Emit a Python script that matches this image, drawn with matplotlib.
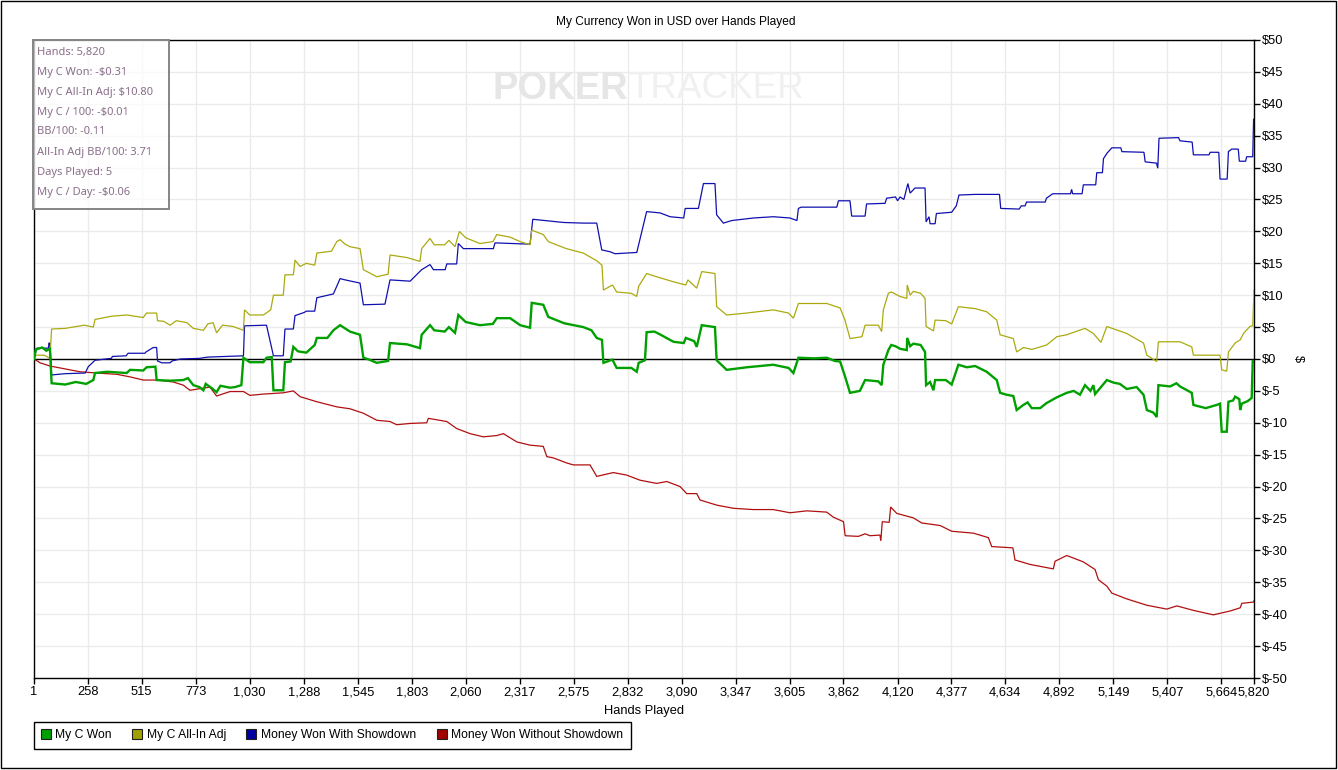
import matplotlib
matplotlib.use("Agg")
import matplotlib.pyplot as plt
from matplotlib.patches import Rectangle
from matplotlib.lines import Line2D

# ---------------- data ----------------
title = "My Currency Won in USD over Hands Played"
x_label = "Hands Played"
y_label = "$"
x_ticks = [1, 258, 515, 773, 1030, 1288, 1545, 1803, 2060, 2317, 2575, 2832,
           3090, 3347, 3605, 3862, 4120, 4377, 4634, 4892, 5149, 5407, 5664, 5820]
y_ticks = list(range(-50, 55, 5))

series_names = ["My C Won", "My C All-In Adj", "Money Won With Showdown",
                "Money Won Without Showdown"]

won_hands = [1, 10, 40, 60, 77, 85, 150, 200, 250, 284, 292, 350, 443, 459, 522, 538, 580,
             586, 650, 713, 735, 761, 790, 809, 820, 850, 872, 890, 936, 960, 990, 1000,
             1030, 1095, 1110, 1135, 1143, 1190, 1198, 1225, 1238, 1260, 1300, 1340, 1350,
             1400, 1429, 1461, 1508, 1556, 1572, 1600, 1636, 1690, 1699, 1780, 1842, 1850,
             1890, 1910, 1960, 1980, 2009, 2025, 2060, 2128, 2190, 2208, 2272, 2320, 2367,
             2375, 2430, 2454, 2530, 2621, 2660, 2685, 2710, 2717, 2760, 2780, 2850, 2876,
             2885, 2915, 2923, 2960, 2990, 3051, 3100, 3110, 3150, 3162, 3186, 3249, 3257,
             3305, 3400, 3527, 3600, 3623, 3647, 3720, 3782, 3820, 3846, 3870, 3893, 3940,
             3965, 4028, 4044, 4052, 4076, 4090, 4110, 4132, 4164, 4166, 4180, 4195, 4230,
             4251, 4256, 4275, 4291, 4299, 4350, 4378, 4410, 4450, 4490, 4545, 4593, 4609,
             4640, 4672, 4688, 4720, 4740, 4760, 4800, 4831, 4880, 4927, 4960, 4990, 5014,
             5040, 5054, 5062, 5118, 5150, 5180, 5213, 5260, 5293, 5309, 5340, 5356, 5364,
             5420, 5450, 5467, 5523, 5531, 5590, 5642, 5658, 5666, 5690, 5698, 5720, 5730,
             5750, 5754, 5762, 5790, 5809, 5814, 5820]
won_values = [0, 1.5, 1.8, 1.3, 1.6, -3.8, -4.0, -3.6, -3.9, -3.3, -2.2, -2.0, -2.2, -1.7,
              -1.8, -1.3, -1.2, -3.3, -3.4, -3.3, -3.0, -4.1, -4.4, -4.9, -3.9, -4.6, -5.2,
              -4.2, -4.5, -4.4, -4.1, 0.2, -0.5, -0.5, 0.2, 0.3, -4.9, -4.9, -0.5, -0.4, 1.9,
              1.2, 1.0, 2.2, 3.3, 3.3, 4.5, 5.3, 4.3, 3.8, 0.2, -0.1, -0.6, -0.3, 2.5, 2.3,
              1.7, 3.8, 5.3, 4.5, 4.3, 5.0, 4.1, 6.9, 5.8, 5.3, 5.5, 6.4, 6.4, 5.3, 4.9, 8.8,
              8.5, 6.6, 5.6, 5.0, 4.5, 3.3, 3.0, -0.6, -0.1, -1.4, -1.4, -2.0, -0.6, -0.2,
              4.2, 4.3, 3.8, 2.7, 2.5, 3.3, 2.8, 1.9, 5.3, 5.0, -0.2, -1.7, -1.3, -0.9, -1.4,
              -2.2, 0.2, 0.1, 0.2, -0.3, -0.4, -2.8, -5.3, -5.0, -3.3, -3.5, -4.1, -0.9, 1.4,
              2.2, 2.0, 1.6, 1.4, 3.3, 2.0, 2.4, 2.2, 1.1, -4.1, -3.6, -4.9, -3.3, -3.3, -4.0,
              -0.9, -1.3, -1.1, -2.0, -3.3, -5.3, -5.6, -5.8, -8.0, -7.2, -6.8, -7.7, -7.7,
              -6.9, -6.0, -5.3, -5.0, -5.6, -4.1, -5.0, -4.1, -5.5, -3.3, -3.7, -3.9, -4.7,
              -4.4, -5.6, -8.0, -8.4, -9.1, -4.1, -4.3, -3.8, -4.3, -5.3, -7.2, -7.7, -7.2,
              -7.0, -11.4, -11.4, -6.7, -6.5, -5.9, -6.3, -8.0, -7.0, -6.6, -6.1, -0.3, -0.31]

adj_hands = [1, 10, 50, 77, 85, 150, 240, 284, 292, 370, 443, 522, 538, 586, 590, 620, 650,
             680, 730, 761, 809, 830, 855, 872, 900, 950, 1000, 1005, 1030, 1095, 1130, 1143,
             1190, 1198, 1238, 1246, 1270, 1300, 1340, 1350, 1420, 1445, 1461, 1485, 1508,
             1556, 1572, 1636, 1690, 1699, 1780, 1842, 1850, 1890, 1910, 1960, 1980, 2009,
             2030, 2060, 2128, 2190, 2208, 2272, 2320, 2367, 2375, 2430, 2454, 2540, 2621,
             2685, 2710, 2717, 2760, 2780, 2850, 2876, 2885, 2923, 2960, 3051, 3110, 3120,
             3162, 3186, 3249, 3257, 3305, 3400, 3527, 3600, 3623, 3647, 3782, 3846, 3870,
             3893, 3950, 3965, 4028, 4044, 4052, 4076, 4090, 4132, 4164, 4166, 4180, 4195,
             4230, 4251, 4256, 4291, 4299, 4350, 4378, 4410, 4490, 4545, 4593, 4609, 4672,
             4688, 4720, 4760, 4831, 4880, 4927, 5014, 5054, 5090, 5118, 5213, 5293, 5309,
             5356, 5364, 5467, 5523, 5531, 5642, 5658, 5666, 5690, 5698, 5730, 5754, 5770,
             5800, 5814, 5820]
adj_values = [0, 0.6, 0.6, 0.1, 4.7, 4.8, 5.3, 5.0, 6.2, 6.7, 6.9, 6.5, 7.2, 7.2, 6.0, 5.9,
              5.3, 6.0, 5.7, 4.8, 4.5, 5.5, 5.7, 4.1, 5.3, 5.1, 4.5, 7.7, 6.9, 6.9, 7.7, 10.0,
              10.0, 13.2, 13.2, 15.5, 14.5, 15.0, 14.7, 16.6, 16.9, 18.4, 18.7, 18.0, 17.6,
              17.3, 14.0, 12.9, 13.3, 16.3, 15.9, 15.3, 17.3, 18.9, 17.9, 17.9, 18.6, 17.6,
              20.0, 19.0, 18.1, 18.4, 19.5, 19.1, 18.4, 17.9, 20.2, 19.5, 18.4, 17.3, 16.6,
              15.4, 14.7, 10.8, 11.6, 10.5, 10.3, 9.8, 11.4, 13.4, 13.0, 12.1, 11.6, 12.4,
              11.1, 13.7, 13.4, 8.2, 6.9, 7.2, 7.7, 7.2, 6.4, 8.7, 8.7, 8.0, 6.0, 3.2, 3.5,
              5.3, 5.3, 4.3, 7.7, 10.3, 10.5, 9.8, 9.5, 11.6, 10.0, 10.6, 10.3, 9.5, 5.1, 4.4,
              6.1, 6.0, 5.5, 8.2, 7.9, 7.4, 6.1, 3.8, 3.2, 1.1, 1.8, 1.5, 2.2, 3.5, 3.8, 4.8,
              4.0, 2.6, 5.1, 4.0, 2.5, 0.6, -0.4, 2.7, 2.7, 1.9, 0.6, 0.6, 0.6, -1.7, -1.9,
              1.1, 2.5, 3.0, 4.0, 5.1, 5.2, 10.8]

sd_hands = [1, 14, 70, 72, 77, 85, 150, 245, 260, 292, 370, 375, 440, 450, 530, 535, 570,
            586, 590, 610, 650, 660, 700, 790, 830, 1000, 1005, 1110, 1143, 1190, 1198, 1238,
            1246, 1290, 1300, 1340, 1350, 1429, 1461, 1485, 1556, 1572, 1675, 1699, 1795,
            1850, 1890, 1906, 1962, 1970, 2017, 2025, 2049, 2192, 2200, 2367, 2380, 2526,
            2620, 2685, 2709, 2750, 2772, 2876, 2923, 2987, 3035, 3100, 3107, 3170, 3178,
            3194, 3249, 3257, 3289, 3329, 3432, 3527, 3607, 3640, 3647, 3660, 3830, 3838,
            3893, 3901, 3965, 3972, 4060, 4068, 4110, 4120, 4132, 4150, 4169, 4180, 4203,
            4251, 4256, 4270, 4275, 4299, 4305, 4378, 4400, 4413, 4490, 4606, 4612, 4700,
            4710, 4728, 4735, 4824, 4830, 4860, 4945, 4950, 4955, 5000, 5006, 5065, 5070,
            5097, 5102, 5120, 5142, 5185, 5190, 5295, 5301, 5355, 5361, 5367, 5460, 5467,
            5525, 5531, 5605, 5611, 5652, 5658, 5692, 5698, 5714, 5745, 5750, 5780, 5785,
            5814, 5818, 5820]
sd_values = [0, 1.7, 1.7, 2.5, 2.5, -2.5, -2.3, -2.2, -1.2, -0.2, 0.1, 0.4, 0.5, 0.9, 0.9,
             1.1, 1.8, 1.8, -0.3, -0.6, -0.6, -0.3, 0.0, 0.1, 0.3, 0.5, 5.2, 5.3, 0.5, 0.5,
             4.7, 4.7, 6.8, 7.3, 7.5, 7.5, 9.6, 10.2, 12.6, 12.4, 11.9, 8.5, 8.6, 12.4, 12.2,
             14.0, 14.8, 14.0, 14.0, 14.9, 14.9, 18.1, 17.3, 17.3, 18.2, 18.0, 21.9, 21.4,
             21.3, 21.3, 17.1, 16.8, 16.5, 16.7, 23.1, 22.9, 22.3, 22.1, 23.6, 23.6, 24.9,
             27.5, 27.5, 22.6, 21.3, 21.7, 22.1, 22.3, 22.1, 21.7, 23.6, 23.8, 23.8, 24.8,
             24.8, 22.4, 22.4, 24.3, 24.4, 25.2, 25.4, 24.8, 25.4, 25.0, 27.5, 26.0, 26.8,
             26.8, 21.5, 22.3, 21.2, 21.2, 22.8, 23.0, 24.0, 25.7, 25.8, 25.8, 23.6, 23.5,
             24.0, 24.0, 24.6, 24.6, 25.2, 25.9, 25.9, 26.6, 25.9, 25.9, 27.3, 27.3, 29.2,
             29.2, 31.4, 32.3, 33.1, 33.1, 32.5, 32.4, 30.9, 30.7, 29.9, 34.6, 34.7, 34.2,
             34.0, 32.0, 32.0, 32.4, 32.4, 28.2, 28.2, 32.5, 32.9, 32.9, 31.0, 31.0, 31.7,
             31.7, 37.6, 37.6]

nsd_hands = [1, 30, 77, 141, 220, 300, 396, 459, 522, 586, 665, 713, 745, 840, 872, 936,
             1000, 1031, 1095, 1190, 1238, 1270, 1350, 1445, 1508, 1572, 1636, 1699, 1731,
             1795, 1874, 1882, 1970, 2017, 2081, 2144, 2208, 2240, 2304, 2367, 2430, 2447,
             2478, 2542, 2574, 2653, 2685, 2764, 2828, 2892, 2971, 3019, 3083, 3114, 3162,
             3178, 3257, 3337, 3432, 3527, 3607, 3687, 3782, 3814, 3862, 3870, 3933, 3965,
             3988, 4036, 4040, 4047, 4080, 4087, 4116, 4195, 4235, 4323, 4378, 4482, 4553,
             4569, 4670, 4680, 4752, 4863, 4871, 4927, 5006, 5062, 5078, 5118, 5142, 5213,
             5309, 5404, 5452, 5531, 5626, 5706, 5754, 5762, 5817, 5820]
nsd_values = [0, -0.6, -1.1, -1.5, -2.0, -2.2, -2.4, -2.8, -3.3, -3.3, -3.6, -4.1, -4.9,
              -4.4, -5.8, -5.1, -5.1, -5.7, -5.5, -5.3, -5.0, -5.9, -6.7, -7.5, -7.8, -8.5,
              -9.6, -9.8, -10.3, -10.1, -10.0, -9.3, -9.8, -10.9, -11.7, -12.2, -12.0, -11.7,
              -13.0, -13.5, -13.7, -15.3, -15.5, -16.3, -16.6, -16.6, -18.4, -17.8, -18.2,
              -19.0, -19.5, -19.2, -20.0, -21.1, -21.1, -22.1, -22.9, -23.4, -23.6, -23.6,
              -24.1, -23.8, -24.0, -24.8, -25.5, -27.7, -27.8, -27.4, -27.7, -27.6, -28.5,
              -25.5, -25.6, -23.2, -24.2, -24.9, -25.7, -26.1, -27.0, -27.3, -28.0, -29.4,
              -29.6, -31.5, -32.2, -32.9, -31.7, -30.8, -31.8, -33.0, -34.6, -35.6, -36.7,
              -37.6, -38.6, -39.2, -38.7, -39.4, -40.1, -39.5, -39.0, -38.3, -38.1, -37.9]

info_lines = ["Hands: 5,820", "My C Won: -$0.31", "My C All-In Adj: $10.80",
              "My C / 100: -$0.01", "BB/100: -0.11", "All-In Adj BB/100: 3.71",
              "Days Played: 5", "My C / Day: -$0.06"]

# ---------------- styles ----------------
W, H = 1338, 770
line_colors = ["#00a000", "#aaaa10", "#1010b0", "#b01010"]
legend_colors = ["#00a000", "#a0a000", "#0000a0", "#a00000"]
line_widths = [1.7, 0.9, 0.9, 0.9]
sans = ["Liberation Sans", "DejaVu Sans"]


def fx(px):
    return px / W


def fy(py):
    return 1 - py / H


fig = plt.figure(figsize=(W / 100, H / 100), dpi=100, facecolor="white")
ax = fig.add_axes([fx(34), fy(678), (1254 - 34) / W, (678 - 40) / H])

ax.set_xlim(1, 5820)
ax.set_ylim(-50, 50)
ax.set_axisbelow(True)
ax.grid(True, color="#ebebeb", linewidth=1.0)

ax.axhline(0, color="black", linewidth=1.0, zorder=2)

data = [(won_hands, won_values), (adj_hands, adj_values),
        (sd_hands, sd_values), (nsd_hands, nsd_values)]
for i in [3, 2, 1, 0]:
    h, v = data[i]
    ax.plot(h, v, color=line_colors[i], linewidth=line_widths[i], zorder=3 + (3 - i),
            solid_joinstyle="miter")

ax.set_xticks(x_ticks)
ax.set_xticklabels([f"{t:,}" for t in x_ticks], fontfamily=sans, fontsize=9.3)
ax.yaxis.tick_right()
ax.set_yticks(y_ticks)
ax.set_yticklabels([f"${t}" for t in y_ticks], fontfamily=sans, fontsize=9.3)
ax.tick_params(axis="both", direction="out", length=4, width=1, color="black",
               labelcolor="black", pad=2)
ax.tick_params(axis="y", left=False, right=True)

for s in ax.spines.values():
    s.set_color("black")
    s.set_linewidth(1.0)

ax.set_xlabel(x_label, fontfamily=sans, fontsize=9.3, labelpad=5)
ax.yaxis.set_label_position("right")
ax.set_ylabel(y_label, fontfamily=sans, fontsize=9.3, rotation=-90, labelpad=7,
              va="center")

fig.text(fx(676), fy(22), title, ha="center", va="center", fontfamily=sans,
         fontsize=8.6, color="black")

# watermark
fig.text(fx(628), fy(89), "POKER", ha="right", va="center", fontfamily=sans,
         fontweight="bold", fontsize=27.5, color="#e6e6e6", zorder=0)
fig.text(fx(628), fy(89), "TRACKER", ha="left", va="center", fontfamily=sans,
         fontsize=26.5, color="#f0f0f0", zorder=0)

# info box
box_x0, box_x1, box_y0, box_y1 = 32.5, 169, 39.5, 208.5
fig.patches.append(Rectangle((fx(box_x0), fy(box_y1)), (box_x1 - box_x0) / W,
                             (box_y1 - box_y0) / H, transform=fig.transFigure,
                             facecolor="white", alpha=0.75, edgecolor="none", zorder=5))
fig.patches.append(Rectangle((fx(box_x0), fy(box_y1)), (box_x1 - box_x0) / W,
                             (box_y1 - box_y0) / H, transform=fig.transFigure,
                             facecolor="none", edgecolor="#858585", linewidth=1.4, zorder=6))
for k, line in enumerate(info_lines):
    fig.text(fx(37), fy(52 + 20 * k), line, ha="left", va="center",
             fontfamily=["Noto Sans", "DejaVu Sans"], fontsize=8.0, color="#8a6f8a",
             zorder=7)

# legend
handles = [Line2D([], [], linestyle="none", marker="s", markersize=6.5,
                  markerfacecolor=c, markeredgecolor="#202020", markeredgewidth=0.8)
           for c in legend_colors]
leg = fig.legend(handles, series_names, loc="upper left",
                 bbox_to_anchor=(fx(33.5), fy(721.5)), ncol=4, frameon=True,
                 fancybox=False, edgecolor="black", framealpha=1,
                 prop={"family": sans, "size": 8.7}, handlelength=0.7,
                 handletextpad=0.45, columnspacing=1.75, borderpad=0.65,
                 borderaxespad=0)
leg.get_frame().set_linewidth(1.0)

# outer border
fig.patches.append(Rectangle((fx(1), fy(768)), 1335 / W, 767 / H, transform=fig.transFigure,
                             facecolor="none", edgecolor="black", linewidth=1.0, zorder=10))

fig.savefig("out.png", dpi=100, facecolor="white")
